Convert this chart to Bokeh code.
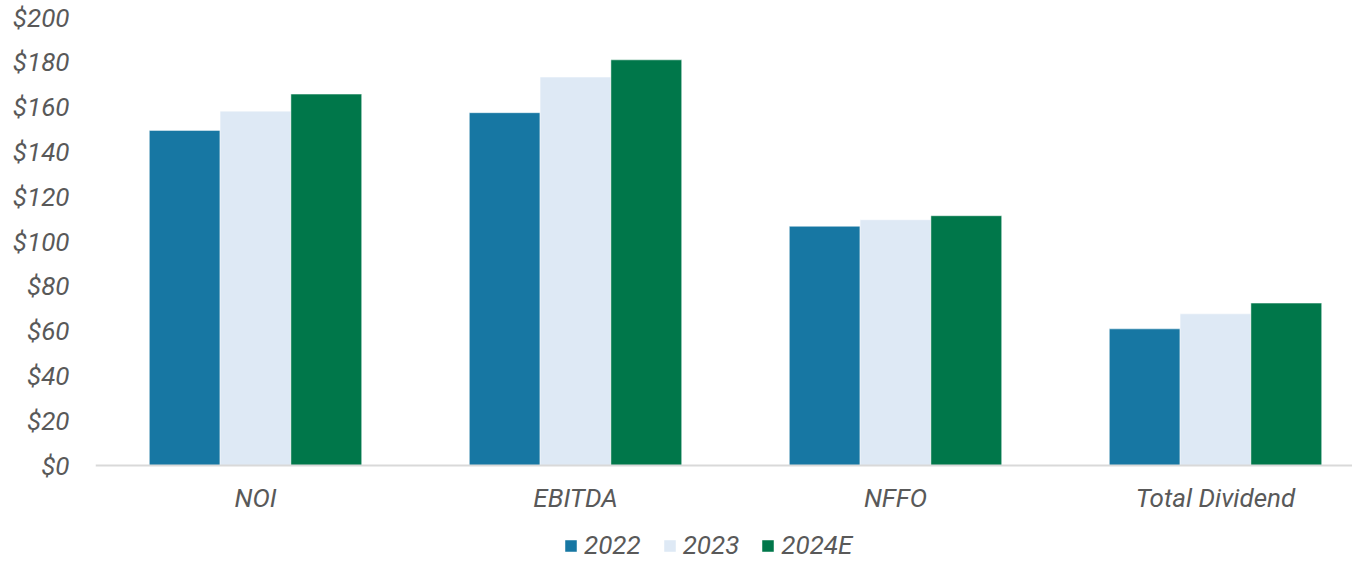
from bokeh.plotting import figure
from bokeh.models import Range1d, FixedTicker, NumeralTickFormatter, Legend, LegendItem, ColumnDataSource
from bokeh.embed import file_html
from bokeh.resources import INLINE

categories = ["NOI", "EBITDA", "NFFO", "Total Dividend"]
series_names = ["2022", "2023", "2024E"]
values_2022 = [149.6, 157.5, 106.8, 61.0]
values_2023 = [158.2, 173.4, 109.7, 67.7]
values_2024e = [165.8, 181.1, 111.5, 72.5]
y_ticks = [0, 20, 40, 60, 80, 100, 120, 140, 160, 180, 200]

colors = ["#1777A3", "#DEE9F5", "#00774A"]
all_values = [values_2022, values_2023, values_2024e]

FONT = "Roboto"
TXT = "#595959"
FS = "26px"

W, H = 1352, 560
LEFT, TOP = 95, 17
PX_PER_UNIT_Y = 448 / 200
PX_PER_CAT = 320

p = figure(width=W, height=H, output_backend="svg", toolbar_location=None,
           x_range=Range1d(-0.5, -0.5 + (W - LEFT) / PX_PER_CAT),
           y_range=Range1d(200 - (H - TOP) / PX_PER_UNIT_Y, 200),
           min_border_left=LEFT, min_border_right=0, min_border_top=TOP, min_border_bottom=0)
p.outline_line_color = None
p.xgrid.grid_line_color = None
p.ygrid.grid_line_color = None

bar_w = 70.8 / PX_PER_CAT
offsets = [-bar_w, 0, bar_w]
items = []
xs = list(range(len(categories)))
for name, vals, col, off in zip(series_names, all_values, colors, offsets):
    src = ColumnDataSource(dict(x=[i + off for i in xs], top=vals))
    r = p.vbar(x="x", top="top", width=bar_w, bottom=0, source=src,
               fill_color=col, line_color="white", line_width=0.8, line_alpha=0.6)
    items.append(LegendItem(label=name, renderers=[r]))

# x axis, pinned at y = 0
xa = p.xaxis[0]
xa.fixed_location = 0
xa.ticker = FixedTicker(ticks=xs)
xa.major_label_overrides = {i: c for i, c in enumerate(categories)}
xa.axis_line_color = "#D9D9D9"
xa.axis_line_width = 2
xa.major_tick_line_color = None
xa.minor_tick_line_color = None
xa.major_label_text_font = FONT
xa.major_label_text_font_style = "italic"
xa.major_label_text_font_size = FS
xa.major_label_text_color = TXT
xa.major_label_standoff = 11

ya = p.yaxis[0]
ya.ticker = FixedTicker(ticks=y_ticks)
ya.formatter = NumeralTickFormatter(format="$0")
ya.axis_line_color = None
ya.major_tick_line_color = None
ya.minor_tick_line_color = None
ya.major_label_text_font = FONT
ya.major_label_text_font_style = "italic"
ya.major_label_text_font_size = FS
ya.major_label_text_color = TXT
ya.major_label_standoff = 20

legend = Legend(items=items, orientation="horizontal", location=(468, 0),
                label_text_font=FONT, label_text_font_style="italic",
                label_text_font_size=FS, label_text_color=TXT,
                glyph_width=15, glyph_height=15, label_standoff=6, spacing=21,
                padding=0, margin=0, border_line_color=None, background_fill_alpha=0)
p.add_layout(legend, "center")

open("out.html", "w").write(file_html(p, INLINE))
